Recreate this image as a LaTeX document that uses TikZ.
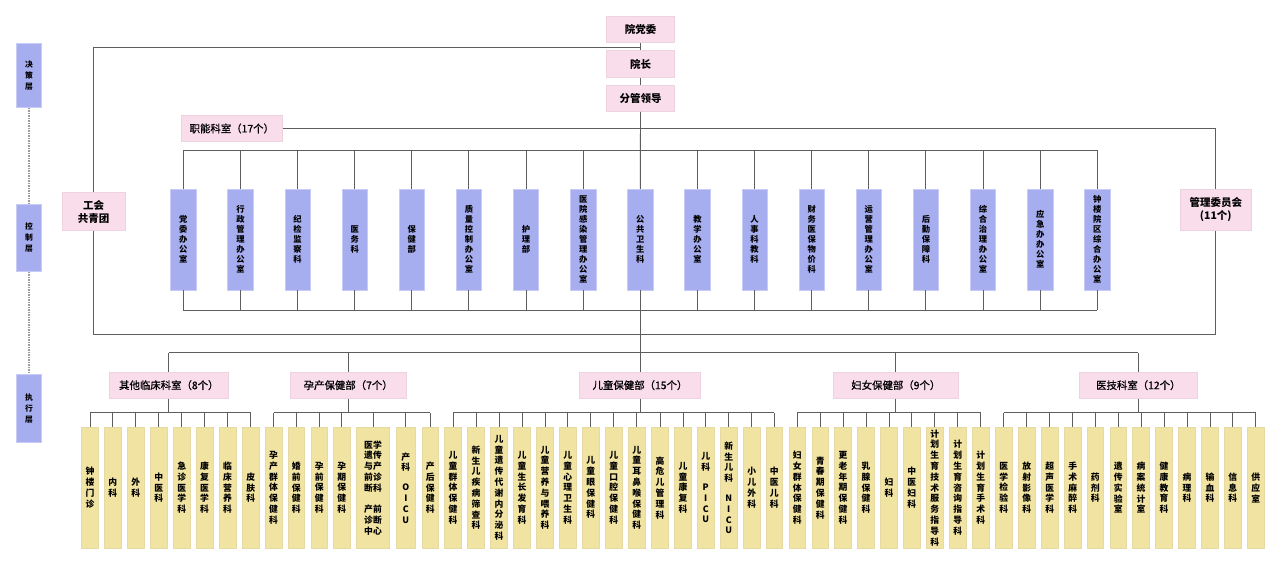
\documentclass[tikz,border=0pt]{standalone}
\usepackage{fontspec}
\setmainfont{Noto Sans CJK SC}
\newfontfamily\medfont[FakeBold=0.8]{Noto Sans CJK SC}
\definecolor{pinkf}{HTML}{F9DDEB}
\definecolor{pinkd}{HTML}{EDD3E0}
\definecolor{bluef}{HTML}{A7AEF0}
\definecolor{blued}{HTML}{C7CBF6}
\definecolor{yelf}{HTML}{F1E3A1}
\definecolor{yeld}{HTML}{E6D9A4}
\definecolor{ln}{HTML}{5E5E5E}
\definecolor{dotc}{HTML}{9A9A9A}
\begin{document}
\begin{tikzpicture}[x=1pt,y=-1pt,
  conn/.style={draw=ln, line width=0.9pt},
  pinkbox/.style={rectangle, fill=pinkf, draw=pinkd, line width=0.6pt, inner sep=0pt, align=center, font=\fontsize{10.5}{13}\selectfont\bfseries},
  topbox/.style={pinkbox, minimum width=67.6pt, minimum height=26.7pt},
  grpbox/.style={pinkbox, minimum height=26.3pt, font=\medfont\fontsize{10.4}{12}\selectfont},
  bluebox/.style={rectangle, fill=bluef, draw=blued, line width=0.6pt, inner sep=0pt, minimum width=25.3pt, minimum height=101pt, align=center, font=\fontsize{8.3}{10}\selectfont\bfseries},
  layerbox/.style={bluebox, minimum width=25.4pt, font=\fontsize{7.8}{11}\selectfont\bfseries},
  leafbox/.style={rectangle, fill=yelf, draw=yeld, line width=0.6pt, inner sep=0pt, minimum height=121pt, align=center, font=\fontsize{8.8}{10.8}\selectfont\bfseries},
  dotline/.style={draw=dotc, line width=1.1pt, dash pattern=on 1.2pt off 1.3pt}
]
\useasboundingbox (0,0) rectangle (1280,564);
\fill[white] (0,0) rectangle (1280,564);

% layer labels
\node[layerbox, minimum height=64.4pt] (L1) at (29,75.5) {决\\策\\层};
\node[layerbox, minimum height=67.7pt] (L2) at (29,237.8) {控\\制\\层};
\node[layerbox, minimum height=68pt] (L3) at (29,408.3) {执\\行\\层};
\draw[dotline] (L1.south) -- (L2.north);
\draw[dotline] (L2.south) -- (L3.north);

% coordinates
\coordinate (j1) at (640.5,47);
\coordinate (tb) at (0,150);
\coordinate (bb) at (0,310);
\coordinate (ob) at (0,334);
\coordinate (eb) at (0,352.7);
\coordinate (sb) at (0,412.7);

% top
\node[topbox] (dw) at (640.5,29.3) {院党委};
\node[topbox] (yz) at (640.5,64) {院长};
\node[topbox] (fg) at (640.5,98.3) {分管领导};
\node[grpbox, minimum width=101.7pt, minimum height=26.4pt] (zn) at (231.8,128.5) {职能科室（17个）};
\node[pinkbox, minimum width=62.7pt, minimum height=38.4pt] (gh) at (93.7,211.5) {工会\\共青团};
\node[pinkbox, minimum width=71.7pt, minimum height=41.7pt] (gl) at (1215.8,209.8) {管理委员会\\(11个)};

% functional departments
\foreach \t [count=\i] in {
 {党\\委\\办\\公\\室},
 {行\\政\\管\\理\\办\\公\\室},
 {纪\\检\\监\\察\\科},
 {医\\务\\科},
 {保\\健\\部},
 {质\\量\\控\\制\\办\\公\\室},
 {护\\理\\部},
 {医\\院\\感\\染\\管\\理\\办\\公\\室},
 {公\\共\\卫\\生\\科},
 {教\\学\\办\\公\\室},
 {人\\事\\科\\教\\科},
 {财\\务\\医\\保\\物\\价\\科},
 {运\\营\\管\\理\\办\\公\\室},
 {后\\勤\\保\\障\\科},
 {综\\合\\治\\理\\办\\公\\室},
 {应\\急\\办\\办\\公\\室},
 {钟\\楼\\院\\区\\综\\合\\办\\公\\室}}
{ \node[bluebox] (f\i) at ({183.3+57.125*(\i-1)},239.5) {\t}; }

\foreach \i in {1,...,17} {
  \draw[conn] (f\i.north) -- (f\i.north |- tb);
  \draw[conn] (f\i.south) -- (f\i.south |- bb);
}
\draw[conn] (f1.north |- tb) -- (f17.north |- tb);
\draw[conn] (f1.south |- bb) -- (f17.south |- bb);

% main spine
\draw[conn] (dw.south) -- (yz.north);
\draw[conn] (yz.south) -- (fg.north);
\draw[conn] (fg.south) -- (f9.north);
\draw[conn] (f9.south) -- (f9.south |- eb);
\draw[conn] (gh.north) |- (j1);
\draw[conn] (gh.south) |- (gl.south |- ob) -- (gl.south);
\draw[conn] (zn.east) -| (gl.north);

% groups
\node[grpbox, minimum width=119pt] (g1) at (168.8,385.2) {其他临床科室（8个）};
\node[grpbox, minimum width=116pt] (g2) at (348.2,385.2) {孕产保健部（7个）};
\node[grpbox, minimum width=121.4pt] (g3) at (640,385.2) {儿童保健部（15个）};
\node[grpbox, minimum width=125pt] (g4) at (895.8,385.2) {妇女保健部（9个）};
\node[grpbox, minimum width=118pt] (g5) at (1138.3,385.2) {医技科室（12个）};
\draw[conn] (g1.north |- eb) -- (g5.north |- eb);
\foreach \g in {g1,g2,g3,g4,g5} {
  \draw[conn] (\g.north) -- (\g.north |- eb);
  \draw[conn] (\g.south) -- (\g.south |- sb);
}

% leaves
\foreach \x/\w/\t [count=\i] in {
 90/16.7/{钟\\楼\\门\\诊},
 112.8/16.7/{内\\科},
 135.8/16.7/{外\\科},
 158.8/16.7/{中\\医\\科},
 181.7/16.7/{急\\诊\\医\\学\\科},
 204.5/16.7/{康\\复\\医\\学\\科},
 227.5/16.7/{临\\床\\营\\养\\科},
 250.7/16.7/{皮\\肤\\科},
 273.5/16.7/{孕\\产\\群\\体\\保\\健\\科},
 296.3/16.7/{婚\\前\\保\\健\\科},
 319.2/16.7/{孕\\前\\保\\健\\科},
 341.7/16.7/{孕\\期\\保\\健\\科},
 373/32.7/{医学\\遗传\\与产\\前诊\\断科\\[10.4pt]产前\\诊断\\中心},
 405.8/19.7/{产\\科\\[9pt]O\\I\\C\\U},
 430.2/16.7/{产\\后\\保\\健\\科},
 453/16.7/{儿\\童\\群\\体\\保\\健\\科},
 476/16.7/{新\\生\\儿\\疾\\病\\筛\\查\\科},
 499/16.7/{儿\\童\\遗\\传\\代\\谢\\内\\分\\泌\\科},
 522/16.7/{儿\\童\\生\\长\\发\\育\\科},
 545/16.7/{儿\\童\\营\\养\\与\\喂\\养\\科},
 567.7/16.7/{儿\\童\\心\\理\\卫\\生\\科},
 590.7/16.7/{儿\\童\\眼\\保\\健\\科},
 613.7/16.7/{儿\\童\\口\\腔\\保\\健\\科},
 636.7/16.7/{儿\\童\\耳\\鼻\\喉\\保\\健\\科},
 660/16.7/{高\\危\\儿\\管\\理\\科},
 683/16.7/{儿\\童\\康\\复\\科},
 705.7/16.7/{儿\\科\\[9pt]P\\I\\C\\U},
 728.7/16.7/{新\\生\\儿\\科\\[9pt]N\\I\\C\\U},
 751.7/16.7/{小\\儿\\外\\科},
 774.3/16.7/{中\\医\\儿\\科},
 797.3/16.7/{妇\\女\\群\\体\\保\\健\\科},
 820.3/16.7/{青\\春\\期\\保\\健\\科},
 843/16.7/{更\\老\\年\\期\\保\\健\\科},
 866/16.7/{乳\\腺\\保\\健\\科},
 889/16.7/{妇\\科},
 911.7/16.7/{中\\医\\妇\\科},
 934.7/16.7/{计\\划\\生\\育\\技\\术\\服\\务\\指\\导\\科},
 957.7/16.7/{计\\划\\生\\育\\咨\\询\\指\\导\\科},
 980.7/16.7/{计\\划\\生\\育\\手\\术\\科},
 1003.7/16.7/{医\\学\\检\\验\\科},
 1026.7/16.7/{放\\射\\影\\像\\科},
 1049.7/16.7/{超\\声\\医\\学\\科},
 1072.7/16.7/{手\\术\\麻\\醉\\科},
 1095.3/16.7/{药\\剂\\科},
 1118.3/16.7/{遗\\传\\实\\验\\室},
 1141/16.7/{病\\案\\统\\计\\室},
 1164/16.7/{健\\康\\教\\育\\科},
 1187/16.7/{病\\理\\科},
 1210/16.7/{输\\血\\科},
 1232.7/16.7/{信\\息\\科},
 1255.7/16.7/{供\\应\\室}}
{ \node[leafbox, minimum width=\w pt] (l\i) at (\x,487.8) {\t}; }

\foreach \i in {1,...,51} { \draw[conn] (l\i.north) -- (l\i.north |- sb); }
\draw[conn] (l1.north |- sb) -- (l8.north |- sb);
\draw[conn] (l9.north |- sb) -- (l15.north |- sb);
\draw[conn] (l16.north |- sb) -- (l30.north |- sb);
\draw[conn] (l31.north |- sb) -- (l39.north |- sb);
\draw[conn] (l40.north |- sb) -- (l51.north |- sb);
\end{tikzpicture}
\end{document}
